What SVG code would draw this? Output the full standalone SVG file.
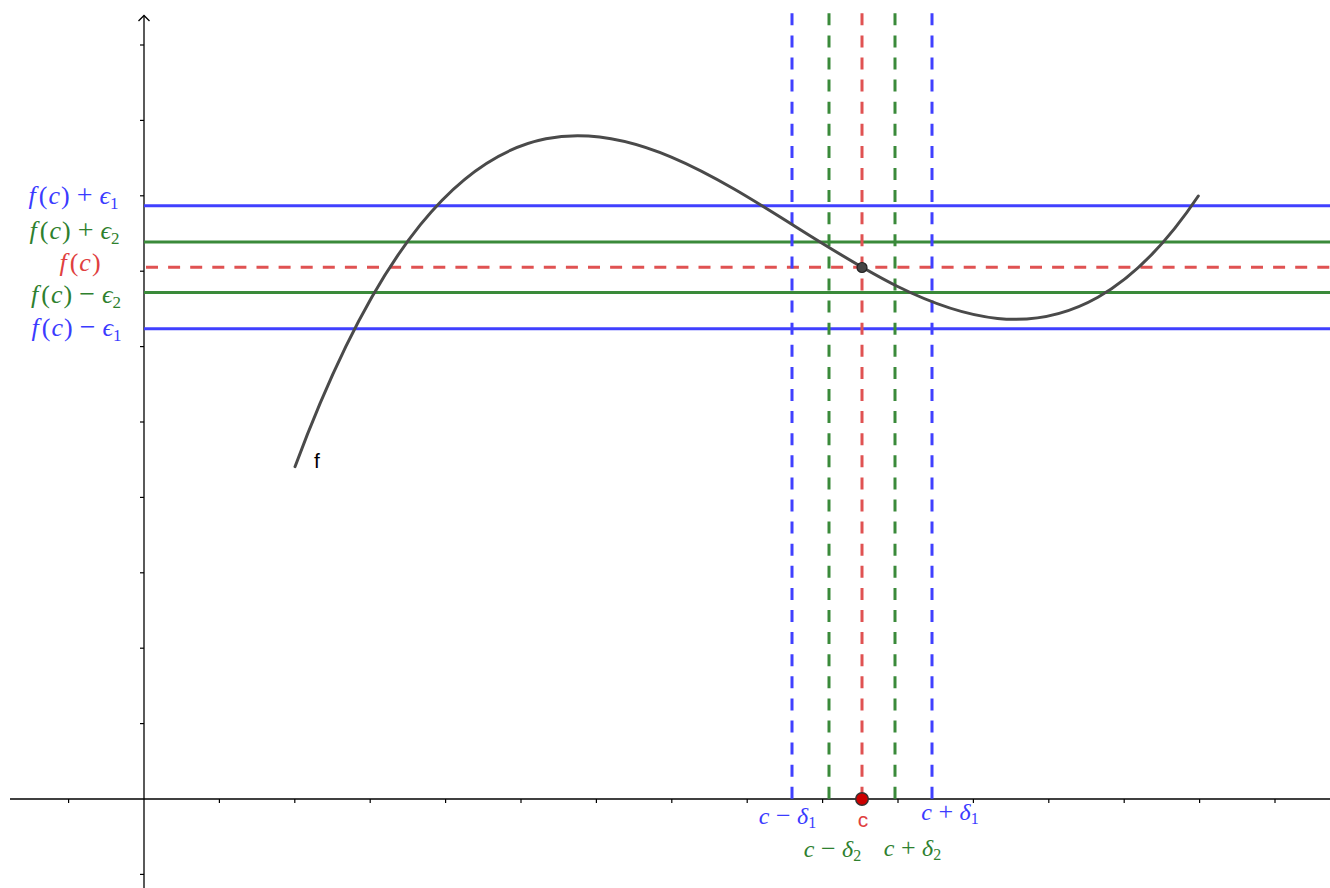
<svg xmlns="http://www.w3.org/2000/svg" width="1330" height="888" viewBox="0 0 1330 888">
<style>
.axis{stroke:#000;stroke-width:1.3;fill:none}
.tick{stroke:#000;stroke-width:1.2}
.blue{stroke:#4040ff;stroke-width:3;fill:none}
.green{stroke:#3a8a3a;stroke-width:3;fill:none}
.red{stroke:#e05252;stroke-width:3;fill:none}
.dash{stroke-dasharray:12 10.1}
.m{font-family:"Liberation Serif","DejaVu Serif",serif;font-style:italic;font-size:26px}
.mb{font-size:24px}
.up{font-style:normal}
.op{font-style:normal;font-size:28px}
.opb{font-style:normal;font-size:26px}
.sub{font-size:17px;font-style:normal}
.subb{font-size:16px;font-style:normal}
.tb{fill:#3b3bff}
.tg{fill:#2e802e}
.tr{fill:#e04040}
.lbl{font-family:"Liberation Sans","DejaVu Sans",sans-serif;font-size:21px}
</style>
<rect width="1330" height="888" fill="#fff"/>
<g id="axes">
<line class="axis" x1="10" y1="799" x2="1330" y2="799"/>
<line class="axis" x1="144" y1="15.5" x2="144" y2="888"/>
<polyline class="axis" points="138.5,21 144,15.5 149.5,21"/>
<g class="tick">
<line x1="68.6" y1="799" x2="68.6" y2="803"/>
<line x1="219.4" y1="799" x2="219.4" y2="803"/>
<line x1="294.8" y1="799" x2="294.8" y2="803"/>
<line x1="370.2" y1="799" x2="370.2" y2="803"/>
<line x1="445.6" y1="799" x2="445.6" y2="803"/>
<line x1="521" y1="799" x2="521" y2="803"/>
<line x1="596.4" y1="799" x2="596.4" y2="803"/>
<line x1="671.8" y1="799" x2="671.8" y2="803"/>
<line x1="747.2" y1="799" x2="747.2" y2="803"/>
<line x1="822.6" y1="799" x2="822.6" y2="803"/>
<line x1="898" y1="799" x2="898" y2="803"/>
<line x1="973.4" y1="799" x2="973.4" y2="803"/>
<line x1="1048.8" y1="799" x2="1048.8" y2="803"/>
<line x1="1124.2" y1="799" x2="1124.2" y2="803"/>
<line x1="1199.6" y1="799" x2="1199.6" y2="803"/>
<line x1="1275" y1="799" x2="1275" y2="803"/>
<line x1="140" y1="45" x2="144" y2="45"/>
<line x1="140" y1="120.4" x2="144" y2="120.4"/>
<line x1="140" y1="195.8" x2="144" y2="195.8"/>
<line x1="140" y1="271.2" x2="144" y2="271.2"/>
<line x1="140" y1="346.6" x2="144" y2="346.6"/>
<line x1="140" y1="422" x2="144" y2="422"/>
<line x1="140" y1="497.4" x2="144" y2="497.4"/>
<line x1="140" y1="572.8" x2="144" y2="572.8"/>
<line x1="140" y1="648.2" x2="144" y2="648.2"/>
<line x1="140" y1="723.6" x2="144" y2="723.6"/>
<line x1="140" y1="874.4" x2="144" y2="874.4"/>
</g>
</g>
<g id="horizontal-lines">
<line class="blue" x1="144" y1="205.8" x2="1330" y2="205.8"/>
<line class="green" x1="144" y1="242" x2="1330" y2="242"/>
<line class="red dash" x1="146" y1="267.3" x2="1330" y2="267.3"/>
<line class="green" x1="144" y1="292.5" x2="1330" y2="292.5"/>
<line class="blue" x1="144" y1="328.8" x2="1330" y2="328.8"/>
</g>
<g id="vertical-lines">
<line class="blue dash" x1="792" y1="13.3" x2="792" y2="799"/>
<line class="green dash" x1="829" y1="13.3" x2="829" y2="799"/>
<line class="red dash" x1="862" y1="13.3" x2="862" y2="799"/>
<line class="green dash" x1="895" y1="13.3" x2="895" y2="799"/>
<line class="blue dash" x1="932" y1="13.3" x2="932" y2="799"/>
</g>
<g id="curve-f">
<path d="M295,466.7 C596.1,-343.3 897.2,646.2 1198.3,196" fill="none" stroke="#4a4a4a" stroke-width="3" stroke-linecap="round"/>
<text class="lbl" x="314" y="468" fill="#000">f</text>
</g>
<g id="point-fc">
<circle cx="862" cy="267.5" r="5" fill="#444" stroke="#222" stroke-width="1.2"/>
</g>
<g id="point-c">
<circle cx="862" cy="799" r="6.3" fill="#cc0000" stroke="#333" stroke-width="1.4"/>
<text class="lbl tr" x="863" y="827" text-anchor="middle">c</text>
</g>
<g id="y-labels">
<text class="m tb" x="73.5" y="204" text-anchor="middle">f<tspan class="up" dx="3">(</tspan><tspan dx="1">c</tspan><tspan class="up" dx="1">)</tspan><tspan class="op"> + </tspan>ϵ<tspan class="sub" dy="5">1</tspan></text>
<text class="m tg" x="74.5" y="239" text-anchor="middle">f<tspan class="up" dx="3">(</tspan><tspan dx="1">c</tspan><tspan class="up" dx="1">)</tspan><tspan class="op"> + </tspan>ϵ<tspan class="sub" dy="5">2</tspan></text>
<text class="m tr" x="80" y="271" text-anchor="middle">f<tspan class="up" dx="3">(</tspan><tspan dx="1">c</tspan><tspan class="up" dx="1">)</tspan></text>
<text class="m tg" x="76" y="303" text-anchor="middle">f<tspan class="up" dx="3">(</tspan><tspan dx="1">c</tspan><tspan class="up" dx="1">)</tspan><tspan class="op"> − </tspan>ϵ<tspan class="sub" dy="5">2</tspan></text>
<text class="m tb" x="76.5" y="336" text-anchor="middle">f<tspan class="up" dx="3">(</tspan><tspan dx="1">c</tspan><tspan class="up" dx="1">)</tspan><tspan class="op"> − </tspan>ϵ<tspan class="sub" dy="5">1</tspan></text>
</g>
<g id="x-labels">
<text class="m mb tb" x="787.5" y="824" text-anchor="middle">c<tspan class="opb"> − </tspan>δ<tspan class="subb" dy="4">1</tspan></text>
<text class="m mb tb" x="950" y="820" text-anchor="middle">c<tspan class="opb"> + </tspan>δ<tspan class="subb" dy="4">1</tspan></text>
<text class="m mb tg" x="832.5" y="857" text-anchor="middle">c<tspan class="opb"> − </tspan>δ<tspan class="subb" dy="4">2</tspan></text>
<text class="m mb tg" x="912.5" y="856" text-anchor="middle">c<tspan class="opb"> + </tspan>δ<tspan class="subb" dy="4">2</tspan></text>
</g>
</svg>
